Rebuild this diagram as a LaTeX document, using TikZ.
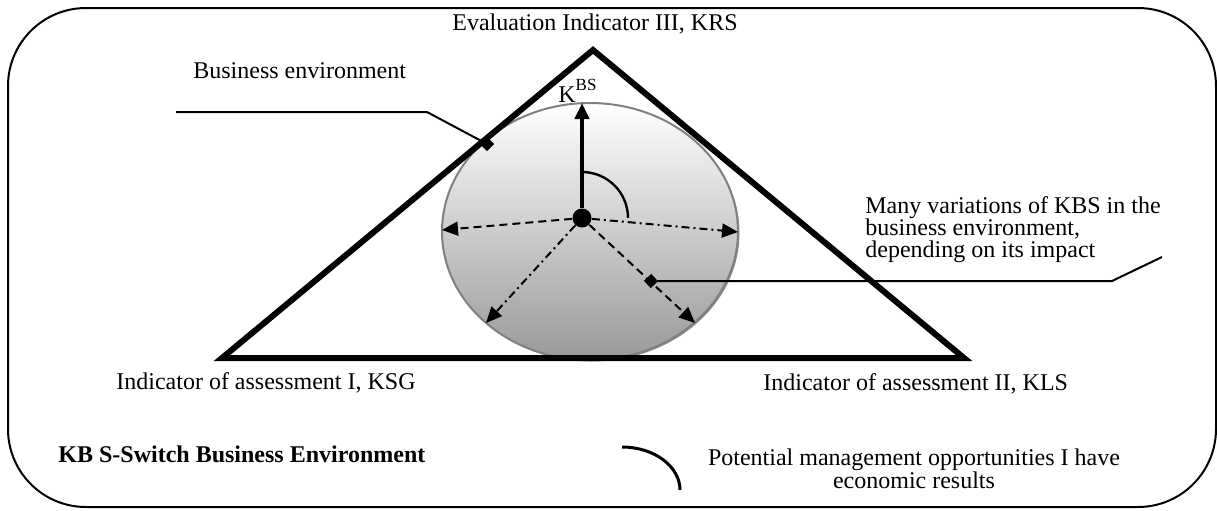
\documentclass[tikz,border=0pt]{standalone}
\usepackage{fontspec}
\setmainfont{Liberation Serif}
\usetikzlibrary{arrows.meta,shapes.geometric}
\tikzset{
  frame/.style={line width=1pt, rounded corners=39pt},
  tri/.style={line width=3pt, line join=miter},
  arr/.style={-{Triangle[length=8pt,width=7pt]}, line width=1pt},
  dsh/.style={dash pattern=on 4pt off 2.5pt},
  dshdot/.style={dash pattern=on 4pt off 2pt on 1pt off 2pt},
  lead/.style={line width=1pt},
  marker/.style={rectangle, fill=black, inner sep=0pt, minimum size=5pt},
  lbl/.style={inner sep=0pt},
}
\begin{document}
\begin{tikzpicture}[x=0.5pt,y=-0.5pt,font=\fontsize{12}{12}\selectfont]
\useasboundingbox (0,0) rectangle (1217,510);
% outer frame
\draw[frame] (8,8) rectangle (1216,507);
% ellipse (business environment)
\fill[black!45] (591.5,233) ellipse [x radius=74pt, y radius=64.25pt];
\node[ellipse, draw=black!50, line width=1pt, top color=white, bottom color=black!40,
      minimum width=148pt, minimum height=128.5pt, inner sep=0pt] (env) at (590,231.5) {};
% triangle
\coordinate (apex) at (593,50);
\coordinate (bl) at (222,358);
\coordinate (br) at (964,358);
\draw[tri] (apex) -- (br) -- (bl) -- cycle;
% centre dot and vectors
\node[circle, fill=black, inner sep=0pt, minimum size=9.5pt] (c) at (582,218) {};
\coordinate (kt) at (582,103);
\coordinate (eL) at (442,230);
\coordinate (eR) at (738,232);
\coordinate (eLL) at (486,323);
\coordinate (eLR) at (695,323);
\draw[arr, line width=2pt] (c) -- (kt);
\draw[arr, dsh] (c) -- (eL);
\draw[arr, dshdot] (c) -- (eR);
\draw[arr, dshdot] (c) -- (eLL);
\draw[arr, dsh] (c) -- (eLR);
% angle arc
\draw[line width=1.2pt] (582,172) arc [start angle=90, end angle=0, radius=23pt];
% K^BS label
\node[lbl, anchor=base west] (kbs) at (558,102) {K\raisebox{6pt}{\fontsize{8.5}{9}\selectfont BS}};
% markers and leaders
\node[marker, rotate=45] (m1) at (487,144) {};
\coordinate (b1) at (427,112);
\coordinate (b2) at (176,112);
\draw[lead] (m1.center) -- (b1) -- (b2);
\node[marker, rotate=-47] (m2) at (651,281) {};
\coordinate (r1) at (1112,281);
\coordinate (r2) at (1162,257);
\draw[lead] (m2.center) -- (r1) -- (r2);
% legend arc
\coordinate (la) at (622,447);
\draw[line width=1.5pt] (la) arc [start angle=90, end angle=0, x radius=29pt, y radius=21.5pt];
% texts
\node[lbl, anchor=base] (t3) at (595,30) {Evaluation Indicator III, KRS};
\node[lbl, anchor=base] (t1) at (266,389) {Indicator of assessment I, KSG};
\node[lbl, anchor=base west] (t2) at (763,390) {Indicator of assessment II, KLS};
\node[lbl, anchor=base west] (tb) at (193,78) {Business environment};
\node[lbl, anchor=base west] (tk) at (58,462) {\textbf{KB S-Switch Business Environment}};
\node[lbl, anchor=north west, align=left, font=\fontsize{12}{11}\selectfont] (tm) at (865,196) {Many variations of KBS in the\\business environment,\\depending on its impact};
\node[lbl, anchor=north, align=center, font=\fontsize{12}{11.5}\selectfont] (tp) at (914,448) {Potential management opportunities I have\\economic results};
\end{tikzpicture}
\end{document}
